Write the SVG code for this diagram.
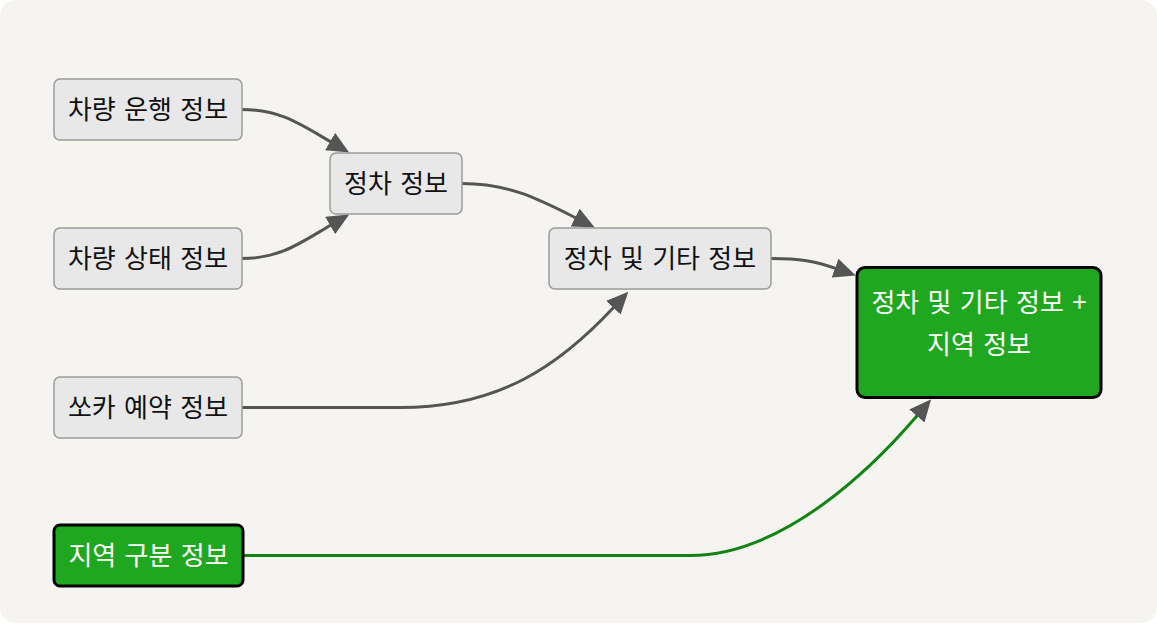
<svg xmlns="http://www.w3.org/2000/svg" width="1157" height="625" viewBox="0 0 1157 625">
<style>
.bg{fill:#f5f4f0}
.n rect{fill:#e8e8e8;stroke:#9a9a9a;stroke-width:1.5}
.g rect{fill:#1fa81f;stroke:#000;stroke-width:3}
text{font-family:"Noto Sans CJK KR","Noto Sans",sans-serif;font-size:26px;text-anchor:middle;word-spacing:2.5px}
.n text{fill:#111}
.g text{fill:#fff}
.e{fill:none;stroke:#555;stroke-width:3}
.eg{fill:none;stroke:#138313;stroke-width:3}
</style>
<defs>
<marker id="ah" viewBox="0 0 22 20" refX="1" refY="10" markerWidth="22" markerHeight="20" markerUnits="userSpaceOnUse" orient="auto">
<path d="M0,0 L22,10 L0,20 z" fill="#555"/>
</marker>
</defs>
<rect width="1157" height="625" fill="#fff"/>
<rect class="bg" x="0" y="0" width="1157" height="623" rx="16"/>
<g id="edges">
<path class="e" d="M242,109.5 C280,109.5 300,124 331,142" marker-end="url(#ah)"/>
<path class="e" d="M242,258.5 C280,258.5 300,243 331,225" marker-end="url(#ah)"/>
<path class="e" d="M462,183.5 C510,183.5 540,200 576,218" marker-end="url(#ah)"/>
<path class="e" d="M242,407.5 L400,407.5 C500,407.5 560,365 614,307" marker-end="url(#ah)"/>
<path class="e" d="M771,258.5 C800,258.5 815,261 836,268.5" marker-end="url(#ah)"/>
<path class="eg" d="M243,555.5 L690,555.5 C785,555.5 875,465 917.5,415.3" marker-end="url(#ah)"/>
</g>
<g id="n1" class="n"><rect x="54" y="79" width="188" height="61" rx="6"/><text x="148" y="119">차량 운행 정보</text></g>
<g id="n2" class="n"><rect x="54" y="228" width="188" height="61" rx="6"/><text x="148" y="268">차량 상태 정보</text></g>
<g id="n3" class="n"><rect x="330" y="153" width="132" height="61" rx="6"/><text x="396" y="193">정차 정보</text></g>
<g id="n4" class="n"><rect x="549" y="228" width="222" height="61" rx="6"/><text x="660" y="268">정차 및 기타 정보</text></g>
<g id="n5" class="n"><rect x="54" y="377" width="188" height="61" rx="6"/><text x="148" y="417">쏘카 예약 정보</text></g>
<g id="g1" class="g"><rect x="54" y="525" width="189" height="61" rx="6"/><text x="148.5" y="565">지역 구분 정보</text></g>
<g id="g2" class="g"><rect x="857" y="267.5" width="244" height="130" rx="8"/><text x="979" y="312">정차 및 기타 정보 +</text><text x="979" y="354">지역 정보</text></g>
</svg>
